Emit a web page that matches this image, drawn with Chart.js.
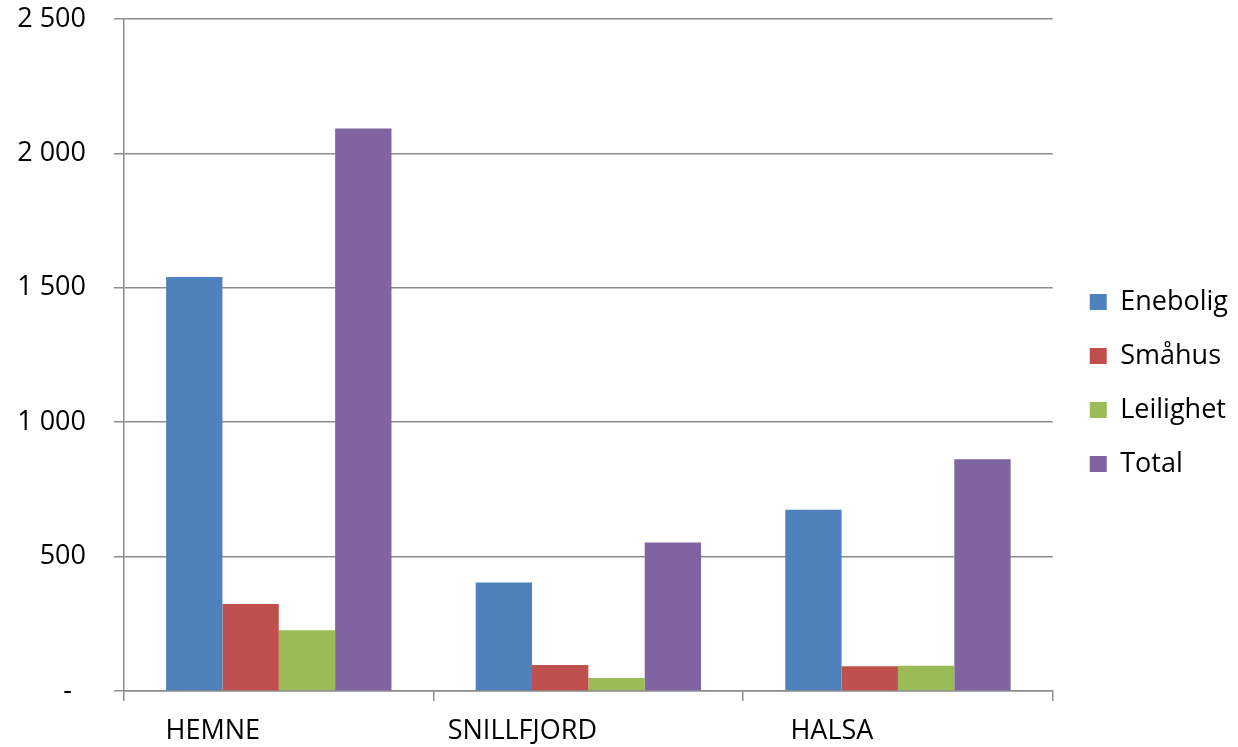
<!DOCTYPE html>
<html>
<head>
<meta charset="utf-8">
<script src="https://cdn.jsdelivr.net/npm/chart.js@4"></script>
<style>
  html, body { margin: 0; padding: 0; background: #fff; }
  #wrap { width: 1238px; height: 747px; }
</style>
</head>
<body>
<div id="wrap"><canvas id="myChart" width="1238" height="747"></canvas></div>
<script>
var kommuner = ["HEMNE", "SNILLFJORD", "HALSA"];
var enebolig = [1540, 404, 674];
var smahus = [324, 97, 92];
var leilighet = [226, 48, 94];
var total = [2093, 552, 862];
var serieNavn = ["Enebolig", "Småhus", "Leilighet", "Total"];
var serieFarger = ["#4F81BD", "#C0504D", "#9BBB59", "#8064A2"];

Chart.defaults.font.family = "'Open Sans', sans-serif";
Chart.defaults.color = "#000";

var grid = "#8c8c8c";

function tall(v) {
    if (v == 0) return "-  ";
    return String(v).replace(/\B(?=(\d{3})+(?!\d))/g, " ");
}

new Chart("myChart", {
    type: "bar",
    data: {
        labels: kommuner,
        datasets: [enebolig, smahus, leilighet, total].map(function (d, i) {
            return {
                label: serieNavn[i],
                data: d,
                backgroundColor: serieFarger[i],
                barPercentage: 1,
                categoryPercentage: 0.728
            };
        })
    },
    options: {
        responsive: false,
        animation: false,
        layout: { padding: { top: 19, right: 0, left: 0, bottom: 0 } },
        plugins: {
            tooltip: { enabled: false },
            legend: {
                position: "right",
                labels: {
                    boxWidth: 17,
                    boxHeight: 16,
                    padding: 27,
                    font: { size: 27 }
                }
            }
        },
        scales: {
            x: {
                grid: { offset: true, drawOnChartArea: false, color: grid, lineWidth: 1.5, tickLength: 10 },
                border: { color: grid, width: 1.5 },
                ticks: { font: { size: 27 }, labelOffset: -66, padding: 14, maxRotation: 0 },
                afterFit: function (s) { s.height = 56; s.paddingLeft = 0; s.paddingRight = 0; }
            },
            y: {
                min: 0,
                max: 2500,
                grid: { color: grid, lineWidth: 1.5, tickLength: 10 },
                border: { color: grid, width: 1.5 },
                ticks: { stepSize: 500, font: { size: 27 }, padding: 28, callback: tall },
                afterFit: function (s) { s.width = 124; s.paddingTop = 0; s.paddingBottom = 0; }
            },
            gap: {
                position: "right",
                display: true,
                grid: { display: false },
                border: { display: false },
                ticks: { display: false },
                afterFit: function (s) { s.width = 10; }
            }
        }
    }
});
</script>
</body>
</html>
